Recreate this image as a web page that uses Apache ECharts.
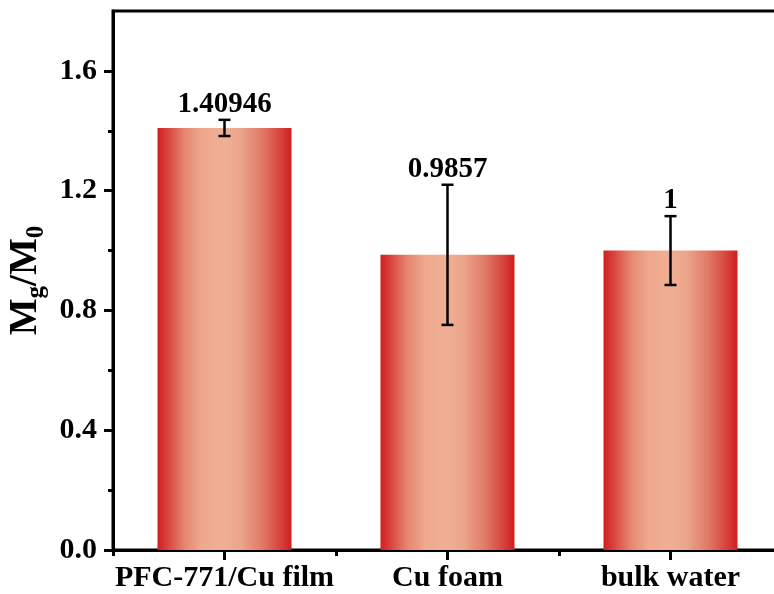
<!DOCTYPE html>
<html><head><meta charset="utf-8">
<script src="https://cdn.jsdelivr.net/npm/echarts@6/dist/echarts.min.js"></script>
<style>html,body{margin:0;padding:0;background:#fff}#c{width:774px;height:594px}</style>
</head><body><div id="c"></div>
<script>
const categories = ['PFC-771/Cu film', 'Cu foam', 'bulk water'];
const xPositions = [1, 2, 3];
const values = [1.40946, 0.9857, 1];
const errors = [0.027, 0.234, 0.115];
const valueLabels = ['1.40946', '0.9857', '1'];
const yTicks = [0, 0.4, 0.8, 1.2, 1.6];
const yMinorTicks = [0.2, 0.6, 1.0, 1.4];
const xBoundaries = [0.5, 1.5, 2.5, 3.5];

const FONT = '"Liberation Serif", "Times New Roman", serif';
const chart = echarts.init(document.getElementById('c'), null, {renderer: 'canvas'});

const barGradient = new echarts.graphic.LinearGradient(0, 0, 1, 0, [
  {offset: 0, color: '#d01d1e'},
  {offset: 0.08, color: '#d9473f'},
  {offset: 0.2, color: '#e68670'},
  {offset: 0.33, color: '#eea88d'},
  {offset: 0.5, color: '#efaf95'},
  {offset: 0.62, color: '#eca58b'},
  {offset: 0.78, color: '#e07a66'},
  {offset: 0.92, color: '#d7423b'},
  {offset: 1, color: '#d01d1e'}
]);

const labelStyle = {fontFamily: FONT, fontSize: 30, fontWeight: 'bold', color: '#000'};

const option = {
  animation: false,
  backgroundColor: '#fff',
  grid: {left: 113, top: 11, bottom: 44, right: -8, show: true, borderColor: '#000', borderWidth: 3,
         containLabel: false, outerBoundsMode: 'none'},
  xAxis: [
    {
      type: 'value', min: 0.5, max: 3.5, position: 'bottom',
      splitLine: {show: false},
      axisLine: {show: true, onZero: false, lineStyle: {color: '#000', width: 3}},
      axisTick: {show: true, customValues: xPositions, length: 10, lineStyle: {color: '#000', width: 3}},
      axisLabel: Object.assign({customValues: xPositions, margin: 13,
        formatter: v => categories[Math.round(v) - 1]}, labelStyle)
    },
    {
      type: 'value', min: 0.5, max: 3.5, position: 'bottom',
      splitLine: {show: false},
      axisLine: {show: false},
      axisTick: {show: true, customValues: xBoundaries, length: 6, lineStyle: {color: '#000', width: 3}},
      axisLabel: {show: false}
    }
  ],
  yAxis: [
    {
      type: 'value', min: 0, max: 1.8, position: 'left',
      splitLine: {show: false},
      axisLine: {show: true, onZero: false, lineStyle: {color: '#000', width: 3}},
      axisTick: {show: true, customValues: yTicks, length: 9, lineStyle: {color: '#000', width: 3}},
      axisLabel: Object.assign({customValues: yTicks, margin: 16, formatter: v => v.toFixed(1)}, labelStyle),
      name: '{a|M}{s|g}{a|/M}{s|0}',
      nameLocation: 'middle',
      nameGap: 59,
      nameTextStyle: {
        rich: {
          a: {fontFamily: FONT, fontSize: 39, fontWeight: 'bold', color: '#000', lineHeight: 48},
          s: {fontFamily: FONT, fontSize: 25, fontWeight: 'bold', color: '#000', lineHeight: 25, verticalAlign: 'top', padding: [22, 0, 0, 0]}
        }
      }
    },
    {
      type: 'value', min: 0, max: 1.8, position: 'left',
      splitLine: {show: false},
      axisLine: {show: false},
      axisTick: {show: true, customValues: yMinorTicks, length: 5, lineStyle: {color: '#000', width: 3}},
      axisLabel: {show: false}
    }
  ],
  series: [
    {
      type: 'bar', xAxisIndex: 0, yAxisIndex: 0,
      barWidth: 134,
      data: values.map((v, i) => [xPositions[i], v]),
      itemStyle: {color: barGradient}
    },
    {
      type: 'custom', xAxisIndex: 0, yAxisIndex: 0, z: 10,
      data: values.map((v, i) => [xPositions[i], v, errors[i]]),
      renderItem: function (params, api) {
        const x = api.value(0), v = api.value(1), e = api.value(2);
        const top = api.coord([x, v + e]);
        const bot = api.coord([x, v - e]);
        const cap = 6;
        const ls = {stroke: '#000', lineWidth: 2.5};
        return {
          type: 'group',
          children: [
            {type: 'line', shape: {x1: top[0], y1: top[1], x2: bot[0], y2: bot[1]}, style: ls},
            {type: 'line', shape: {x1: top[0] - cap, y1: top[1], x2: top[0] + cap, y2: top[1]}, style: ls},
            {type: 'line', shape: {x1: bot[0] - cap, y1: bot[1], x2: bot[0] + cap, y2: bot[1]}, style: ls},
            {type: 'text', style: {
              text: valueLabels[params.dataIndex], x: top[0], y: top[1] - 1,
              align: 'center', verticalAlign: 'bottom',
              fontFamily: FONT, fontSize: 29, fontWeight: 'bold', fill: '#000'
            }}
          ]
        };
      }
    }
  ]
};
chart.setOption(option);
</script>
</body></html>
